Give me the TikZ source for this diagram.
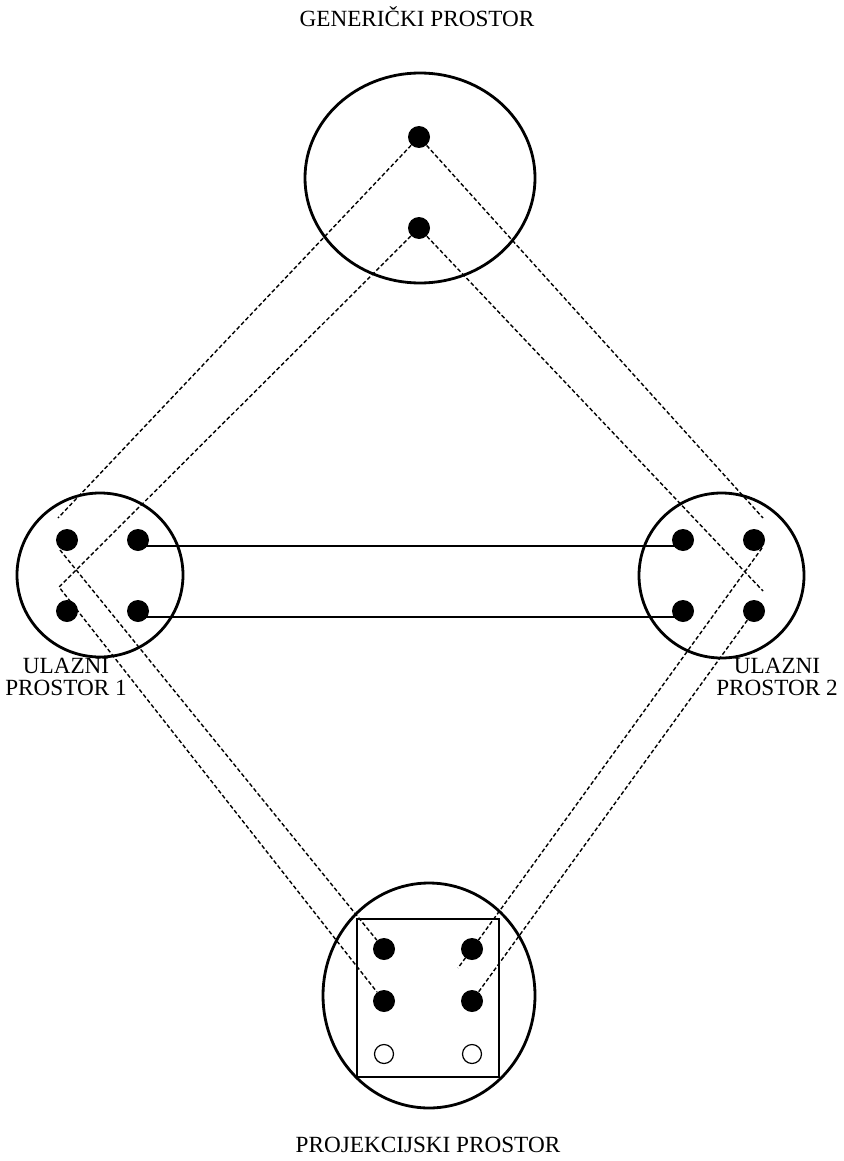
\documentclass[tikz,border=0pt]{standalone}
\usepackage{fontspec}
\setmainfont{Liberation Serif}
\usetikzlibrary{shapes.geometric}

\begin{document}
\begin{tikzpicture}[
  x=0.5pt,
  y=-0.5pt,
  every node/.style={font=\fontsize{11.6}{11}\selectfont},
  space/.style={draw, ellipse, line width=1.4pt, inner sep=0pt},
  dot/.style={circle, fill, inner sep=0pt, minimum size=11pt},
  hole/.style={circle, draw, line width=0.6pt, inner sep=0pt, minimum size=9.5pt},
  frame/.style={line width=1.4pt},
  link/.style={line width=1.2pt},
  mapping/.style={line width=0.7pt, dash pattern=on 2pt off 1.2pt}
]
  \useasboundingbox (0,0) rectangle (843,1161);

  % ---- the four spaces -------------------------------------------------
  \node[space, minimum width=115pt, minimum height=105pt] (gen) at (420,178) {};
  \node[space, minimum width=83pt, minimum height=82pt] (in1) at (100,575) {};
  \node[space, minimum width=82.5pt, minimum height=82.5pt] (in2) at (721.5,575.5) {};
  \node[space, minimum width=106pt, minimum height=112.5pt] (blend) at (429,995.5) {};
  \draw[frame] (357,919) rectangle (499,1077);

  % ---- labels ----------------------------------------------------------
  \node (genlabel) at (417,17) {GENERIČKI PROSTOR};
  \node[align=center] (in1label) at (66,677) {ULAZNI\\PROSTOR 1};
  \node[align=center] (in2label) at (777,677) {ULAZNI\\PROSTOR 2};
  \node (blendlabel) at (428,1145) {PROJEKCIJSKI PROSTOR};

  % ---- elements --------------------------------------------------------
  \node[dot] (g1) at (419,137) {};
  \node[dot] (g2) at (419,228) {};

  \node[dot] (a1) at (67,540) {};
  \node[dot] (a2) at (138,540) {};
  \node[dot] (a3) at (67,611) {};
  \node[dot] (a4) at (138,611) {};

  \node[dot] (b1) at (683,540) {};
  \node[dot] (b2) at (754,540) {};
  \node[dot] (b3) at (683,611) {};
  \node[dot] (b4) at (754,611) {};

  \node[dot] (c1) at (384,949) {};
  \node[dot] (c2) at (472,949) {};
  \node[dot] (c3) at (384,1001) {};
  \node[dot] (c4) at (472,1001) {};
  \node[hole] (c5) at (384,1054) {};
  \node[hole] (c6) at (472,1054) {};

  % ---- cross-space links -----------------------------------------------
  \draw[link] ([yshift=-3pt]a2.center) -- ([yshift=-3pt]b1.center);
  \draw[link] ([yshift=-3pt]a4.center) -- ([yshift=-3pt]b3.center);

  % ---- projections -----------------------------------------------------
  % free ends stop short of the dots, as in the original
  \coordinate (lend) at (58,518);
  \coordinate (lbend) at (59,587);
  \coordinate (lstart) at (60,550);
  \coordinate (rend) at (763,518);
  \coordinate (rstop) at (763,591);
  \coordinate (rstart) at (762,548);
  \coordinate (rtip) at (458,968);

  \draw[mapping] (g1) -- (lend);
  \draw[mapping] (g2) -- (lbend) -- (c3);
  \draw[mapping] (lstart) -- (c1);

  \draw[mapping] (g1) -- (rend);
  \draw[mapping] (g2) -- (rstop);
  \draw[mapping] (rstart) -- (c2.center) -- (rtip);
  \draw[mapping] (b4) -- (c4);

\end{tikzpicture}
\end{document}
